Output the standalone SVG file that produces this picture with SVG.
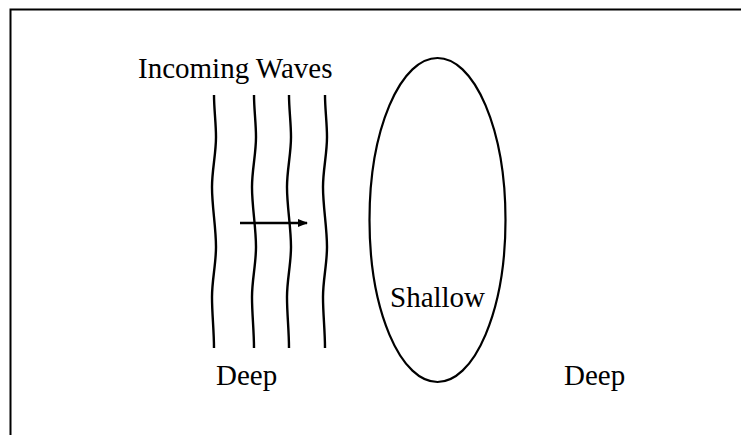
<svg xmlns="http://www.w3.org/2000/svg" width="741" height="435" viewBox="0 0 741 435">
<style>
.lbl{font-family:"Liberation Serif","Times New Roman",serif;font-size:29px;fill:#000}
.wave{fill:none;stroke:#000;stroke-width:2.4}
.shape{fill:none;stroke:#000;stroke-width:2.2}
</style>
<defs>
<path id="wv" d="M0,0 C0,14 2,28 2,42 C2,59 -2,75 -2,92 C-2,112 2,132 2,152 C2,169 -2,185 -2,202 C-2,219 0,236 0,253"/>
<marker id="ah" markerWidth="10" markerHeight="8" refX="9" refY="4" orient="auto" markerUnits="userSpaceOnUse">
<path d="M0,0 L10,4 L0,8 Z" fill="#000"/>
</marker>
</defs>
<rect width="741" height="435" fill="#fff"/>
<g id="frame"><rect x="10.5" y="9.5" width="800" height="500" fill="none" stroke="#000" stroke-width="2"/></g>
<g id="waves">
<use href="#wv" class="wave" x="214" y="95"/>
<use href="#wv" class="wave" x="254" y="95"/>
<use href="#wv" class="wave" x="289" y="95"/>
<use href="#wv" class="wave" x="325" y="95"/>
</g>
<g id="shallow">
<ellipse class="shape" cx="437.5" cy="220" rx="68" ry="162"/>
<text class="lbl" x="390" y="307">Shallow</text>
</g>
<g id="labels">
<text class="lbl" x="138" y="78">Incoming Waves</text>
<text class="lbl" x="216" y="385">Deep</text>
<text class="lbl" x="564" y="385">Deep</text>
</g>
<g id="connectors">
<line x1="240" y1="223" x2="307" y2="223" stroke="#000" stroke-width="2.4" marker-end="url(#ah)"/>
</g>
</svg>
